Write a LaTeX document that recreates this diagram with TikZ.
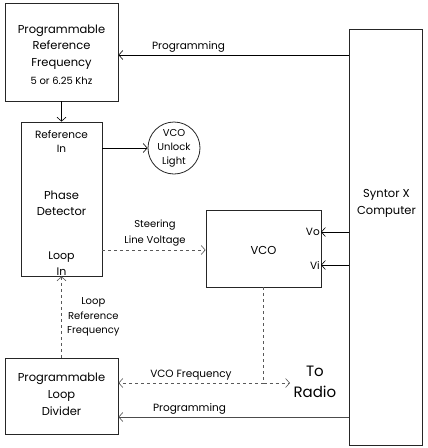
\documentclass[tikz,border=0pt]{standalone}
\usepackage{fontspec}
\setmainfont{Poppins}
\usetikzlibrary{arrows.meta}

\begin{document}
\begin{tikzpicture}[x=1pt,y=-1pt,
    blk/.style={draw=black!85, line width=0.8pt, inner sep=0pt},
    txt/.style={align=center, font=\fontsize{11.5}{17}\selectfont},
    sml/.style={txt, font=\fontsize{10.5}{15}\selectfont},
    sig/.style={line width=0.6pt, -{Straight Barb[length=4pt,width=9pt]}},
    dsh/.style={sig, dashed, gray!70!black}]
    \useasboundingbox (0,0) rectangle (428,448);

    % blocks
    \node[blk, minimum width=113pt, minimum height=98pt] (ref) at (61.5,52) {};
    \node[txt, font=\fontsize{11.5}{16.5}\selectfont] (reftxt) at (61.5,55) {Programmable\\Reference\\Frequency\\[2pt]{\fontsize{10}{12}\selectfont 5 or 6.25 Khz}};
    \node[blk, minimum width=81pt, minimum height=154pt] (pd) at (61.5,199) {};
    \node[sml, font=\fontsize{10.5}{14}\selectfont] (refin) at (61.5,141) {Reference\\In};
    \node[txt, font=\fontsize{11.5}{16}\selectfont] (pdtxt) at (61.5,203) {Phase\\Detector};
    \node[txt, font=\fontsize{11}{16}\selectfont] (loopin) at (61.5,264) {Loop\\In};
    \node[blk, circle, minimum size=52pt, sml, font=\fontsize{10}{14}\selectfont] (light) at (174,148) {VCO\\Unlock\\Light};
    \node[blk, minimum width=115pt, minimum height=77pt] (vco) at (263.5,248.5) {};
    \node[txt] (vcotxt) at (263.5,250) {VCO};
    \node[sml, anchor=east, inner sep=1pt] (vo) at (321,232) {Vo};
    \node[sml, anchor=east, inner sep=1pt] (vi) at (321,265) {Vi};
    \node[blk, minimum width=73pt, minimum height=416pt] (comp) at (385.5,237) {};
    \node[txt, font=\fontsize{11.5}{17}\selectfont] (comptxt) at (386.5,203) {Syntor X\\Computer};
    \node[blk, minimum width=113pt, minimum height=76pt] (div) at (61.5,396) {};
    \node[txt] (divtxt) at (61.5,394) {Programmable\\Loop\\Divider};
    \node[txt, font=\fontsize{15}{21}\selectfont, anchor=west] (radio) at (290,382) {To\\Radio};

    % connectors
    \coordinate (progtop) at (comp.west |- 0,55);
    \coordinate (progbot) at (comp.west |- 0,417);
    \coordinate (tap) at (vco.south |- 0,383);

    \draw[sig] (progtop) -- node[sml, above=-1pt, xshift=-45pt] {Programming} (ref.east |- progtop);
    \draw[sig] (ref.south) -- (pd.north);
    \draw[sig] (pd.east |- light.west) -- (light.west);
    \draw[dsh] (pd.east |- 0,250) -- node[sml, above, font=\fontsize{10}{16}\selectfont, black, xshift=1pt] {Steering\\Line Voltage} (vco.west |- 0,250);
    \draw[sig] (comp.west |- vo) -- (vo.east);
    \draw[sig] (comp.west |- vi) -- (vi.east);
    \draw[dsh] (div.north) -- node[sml, right, font=\fontsize{10}{14.5}\selectfont, black, xshift=2pt] {Loop\\Reference\\Frequency} (pd.south);
    \draw[dashed, line width=0.6pt, gray!70!black] (vco.south) -- (tap);
    \draw[dsh] (tap) -- node[sml, above=-1pt, black] {VCO Frequency} (div.east |- tap);
    \draw[dsh] (tap) -- (radio.west |- tap);
    \draw[sig, gray!60!black] (progbot) -- node[sml, above=-1pt, black, xshift=-44pt] {Programming} (div.east |- progbot);

\end{tikzpicture}
\end{document}
